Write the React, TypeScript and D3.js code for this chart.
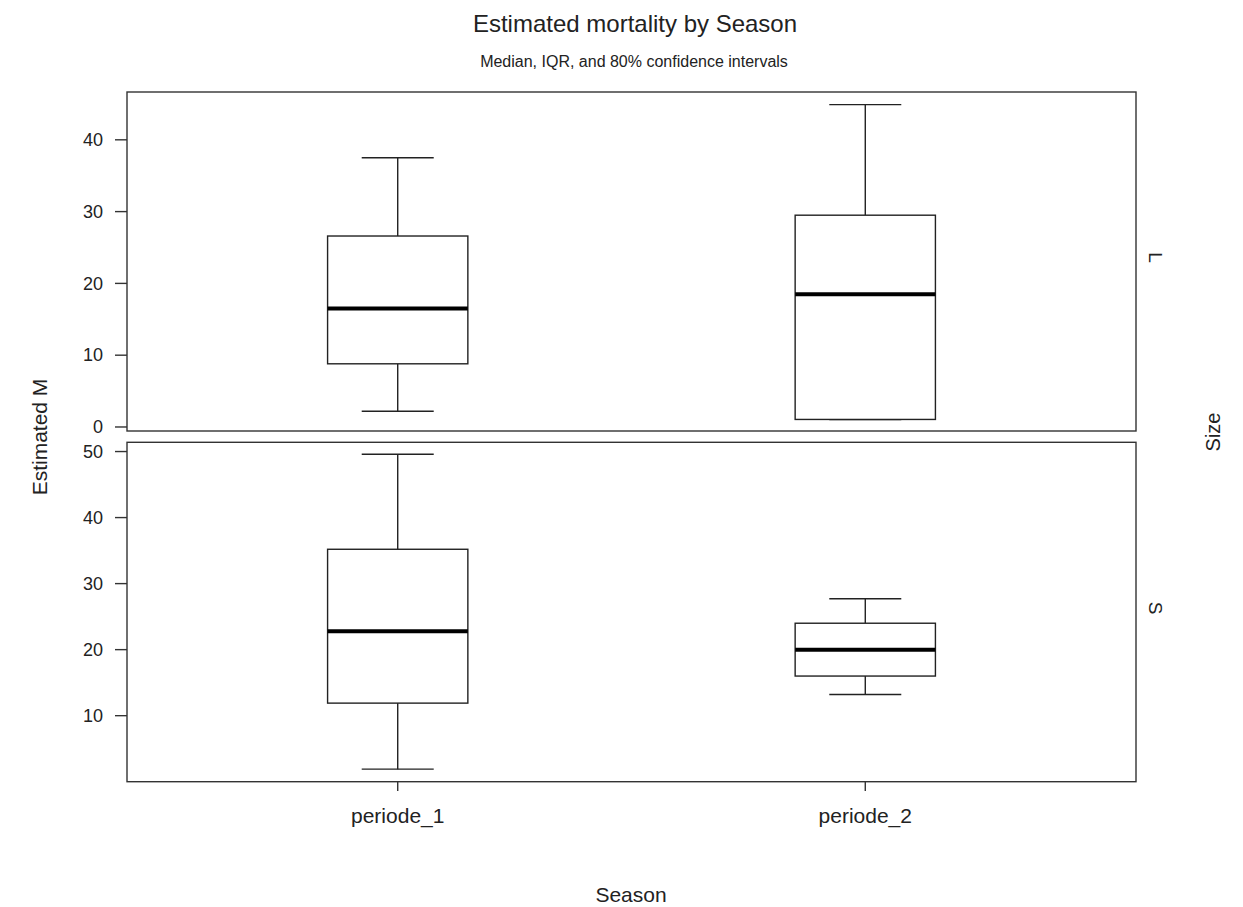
import React from "react";
import * as d3 from "d3";

const categories = ["periode_1", "periode_2"];
const panels = ["L", "S"];
// [low whisker (10%), Q1, median, Q3, high whisker (90%)]
const statsL = [
  [2.2, 8.8, 16.5, 26.6, 37.5],
  [1.05, 1.05, 18.5, 29.5, 44.9],
];
const statsS = [
  [1.9, 11.9, 22.8, 35.2, 49.6],
  [13.2, 16.0, 20.0, 24.0, 27.7],
];
const ticksL = [0, 10, 20, 30, 40];
const ticksS = [10, 20, 30, 40, 50];
const domainL = [-0.56, 46.66];
const domainS = [0, 51.4];

const W = 1243;
const H = 907;
const left = 127;
const right = 1136;
const font = "Arial, 'Liberation Sans', sans-serif";
const textColor = "#222";
const lineColor = "#333";

export default function App() {
  const x = d3.scaleLinear().domain([0.421, 2.579]).range([left, right]);
  const panelDefs = [
    { name: panels[0], stats: statsL, ticks: ticksL, domain: domainL, top: 92, bottom: 431 },
    { name: panels[1], stats: statsS, ticks: ticksS, domain: domainS, top: 442.3, bottom: 781.7 },
  ];
  const boxHalf = 0.15;
  const capHalf = 0.077;
  return (
    <svg width={W} height={H} style={{ position: "absolute", left: 0, top: 0, background: "#fff" }}>
      <rect x={0} y={0} width={W} height={H} fill="#fff" />
      <text x={635} y={32} textAnchor="middle" fontFamily={font} fontSize={24} fill={textColor}>
        Estimated mortality by Season
      </text>
      <text x={634} y={67} textAnchor="middle" fontFamily={font} fontSize={16} fill={textColor}>
        Median, IQR, and 80% confidence intervals
      </text>
      {panelDefs.map((p) => {
        const y = d3.scaleLinear().domain(p.domain).range([p.bottom, p.top]);
        return (
          <g key={p.name}>
            {p.stats.map((s, i) => {
              const cx = x(i + 1);
              const x0 = x(i + 1 - boxHalf);
              const x1 = x(i + 1 + boxHalf);
              const c0 = x(i + 1 - capHalf);
              const c1 = x(i + 1 + capHalf);
              return (
                <g key={i} stroke="#222" strokeWidth={1.4} fill="none">
                  <line x1={cx} x2={cx} y1={y(s[0])} y2={y(s[1])} />
                  <line x1={cx} x2={cx} y1={y(s[3])} y2={y(s[4])} />
                  <line x1={c0} x2={c1} y1={y(s[0])} y2={y(s[0])} />
                  <line x1={c0} x2={c1} y1={y(s[4])} y2={y(s[4])} />
                  <rect x={x0} y={y(s[3])} width={x1 - x0} height={y(s[1]) - y(s[3])} fill="#fff" />
                  <line x1={x0} x2={x1} y1={y(s[2])} y2={y(s[2])} stroke="#000" strokeWidth={4} />
                </g>
              );
            })}
            <rect x={left} y={p.top} width={right - left} height={p.bottom - p.top} fill="none" stroke={lineColor} strokeWidth={1.4} />
            {p.ticks.map((t) => (
              <g key={t}>
                <line x1={left - 12} x2={left} y1={y(t)} y2={y(t)} stroke={lineColor} strokeWidth={1.4} />
                <text x={103} y={y(t)} dy="0.35em" textAnchor="end" fontFamily={font} fontSize={18} fill={textColor}>
                  {t}
                </text>
              </g>
            ))}
            <text
              transform={`translate(${1149},${(p.top + p.bottom) / 2 - 4}) rotate(90)`}
              textAnchor="middle"
              fontFamily={font}
              fontSize={19}
              fill={textColor}
            >
              {p.name}
            </text>
          </g>
        );
      })}
      {categories.map((c, i) => (
        <g key={c}>
          <line x1={x(i + 1)} x2={x(i + 1)} y1={781.7} y2={791} stroke={lineColor} strokeWidth={1.4} />
          <text x={x(i + 1)} y={823} textAnchor="middle" fontFamily={font} fontSize={21} fill={textColor}>
            {c}
          </text>
        </g>
      ))}
      <text x={631} y={902} textAnchor="middle" fontFamily={font} fontSize={21} fill={textColor}>
        Season
      </text>
      <text transform={`translate(47,437) rotate(-90)`} textAnchor="middle" fontFamily={font} fontSize={21} fill={textColor}>
        Estimated M
      </text>
      <text transform={`translate(1220,432) rotate(-90)`} textAnchor="middle" fontFamily={font} fontSize={20} fill={textColor}>
        Size
      </text>
    </svg>
  );
}
